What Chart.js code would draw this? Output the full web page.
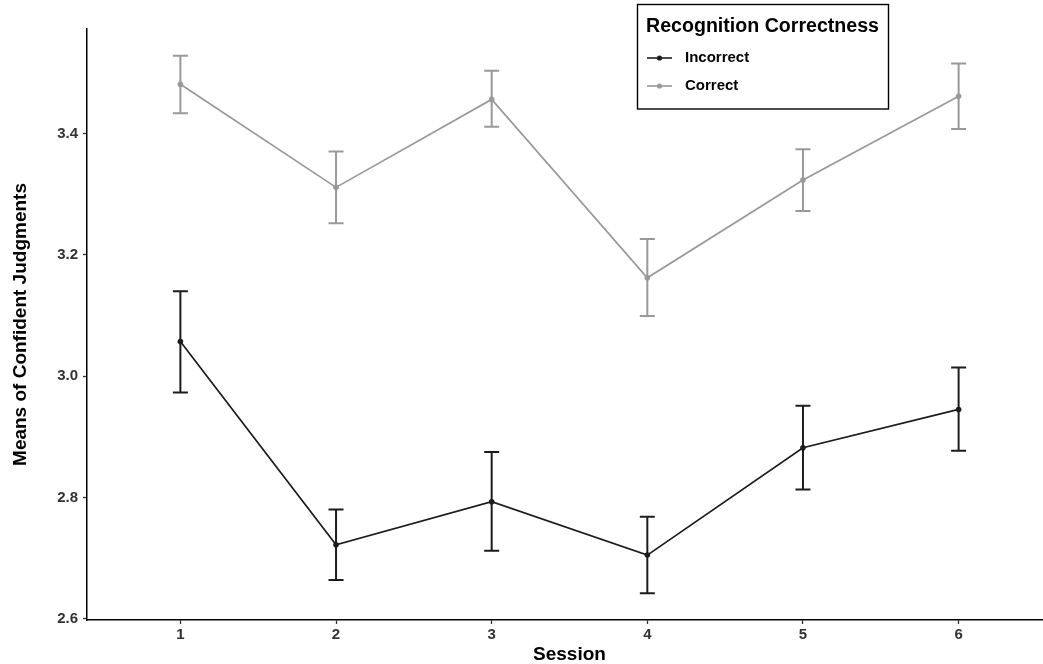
<!DOCTYPE html>
<html>
<head>
<meta charset="utf-8">
<script src="https://cdn.jsdelivr.net/npm/chart.js@4.4.1/dist/chart.umd.min.js"></script>
<style>
  html, body { margin: 0; padding: 0; background: #fff; overflow: hidden; }
  body { width: 1043px; height: 664px; }
  canvas { display: block; }
</style>
</head>
<body>
<canvas id="chart" width="1056" height="664"></canvas>
<script>
// Session means with their error-bar limits
const sessions = [1, 2, 3, 4, 5, 6];
const yTicks = [2.6, 2.8, 3.0, 3.2, 3.4];

const incorrectMean  = [3.057, 2.722, 2.793, 2.705, 2.882, 2.945];
const incorrectUpper = [3.140, 2.780, 2.875, 2.768, 2.951, 3.014];
const incorrectLower = [2.973, 2.664, 2.712, 2.642, 2.813, 2.877];

const correctMean  = [3.481, 3.311, 3.456, 3.162, 3.323, 3.461];
const correctUpper = [3.528, 3.370, 3.503, 3.226, 3.374, 3.515];
const correctLower = [3.433, 3.252, 3.411, 3.099, 3.272, 3.407];

const seriesLabels = ['Incorrect', 'Correct'];
const legendTitle = 'Recognition Correctness';

const FONT = '"Liberation Sans", Arial, Helvetica, sans-serif';
Chart.defaults.font.family = FONT;

const toPoints = (ys) => sessions.map((s, i) => ({ x: s, y: ys[i] }));

// vertical error bars with caps, drawn beneath the lines
const errorBars = {
  id: 'errorBars',
  beforeDatasetsDraw(chart) {
    const { ctx, scales: { x, y } } = chart;
    chart.data.datasets.forEach((ds) => {
      ctx.save();
      ctx.strokeStyle = ds.borderColor;
      ctx.lineWidth = 2;
      ds.upper.forEach((hi, i) => {
        const px = x.getPixelForValue(sessions[i]);
        const pTop = y.getPixelForValue(hi);
        const pBot = y.getPixelForValue(ds.lower[i]);
        const cap = 7.5;
        ctx.beginPath();
        ctx.moveTo(px, pTop); ctx.lineTo(px, pBot);
        ctx.moveTo(px - cap, pTop); ctx.lineTo(px + cap, pTop);
        ctx.moveTo(px - cap, pBot); ctx.lineTo(px + cap, pBot);
        ctx.stroke();
      });
      ctx.restore();
    });
  }
};

// boxed legend in the upper right
const boxLegend = {
  id: 'boxLegend',
  afterDraw(chart) {
    const { ctx } = chart;
    ctx.save();
    ctx.strokeStyle = '#000';
    ctx.lineWidth = 1.4;
    ctx.strokeRect(637.5, 4.5, 251, 104.5);
    ctx.fillStyle = '#000';
    ctx.textBaseline = 'middle';
    ctx.textAlign = 'left';
    ctx.font = 'bold 19.6px ' + FONT;
    ctx.fillText(legendTitle, 646, 27);
    ctx.font = 'bold 15px ' + FONT;
    chart.data.datasets.forEach((ds, i) => {
      const yy = 58 + i * 28;
      ctx.strokeStyle = ds.borderColor;
      ctx.lineWidth = 1.6;
      ctx.beginPath();
      ctx.moveTo(647, yy); ctx.lineTo(672, yy);
      ctx.stroke();
      ctx.fillStyle = ds.borderColor;
      ctx.beginPath();
      ctx.arc(659.5, yy, 2.6, 0, Math.PI * 2);
      ctx.fill();
      ctx.fillStyle = '#000';
      ctx.fillText(ds.label, 685, yy);
    });
    ctx.restore();
  }
};

const mkSeries = (label, color, mean, upper, lower) => ({
  label,
  data: toPoints(mean),
  upper, lower,
  borderColor: color,
  backgroundColor: color,
  pointBackgroundColor: color,
  pointBorderWidth: 0,
  pointRadius: 2.8,
  borderWidth: 1.7,
  tension: 0,
  showLine: true
});

new Chart(document.getElementById('chart'), {
  type: 'scatter',
  data: {
    datasets: [
      mkSeries(seriesLabels[0], '#1c1c1c', incorrectMean, incorrectUpper, incorrectLower),
      mkSeries(seriesLabels[1], '#999999', correctMean, correctUpper, correctLower)
    ]
  },
  options: {
    responsive: false,
    devicePixelRatio: 1,
    animation: false,
    layout: { padding: { top: 29, left: 0, right: 0, bottom: 0 } },
    plugins: { legend: { display: false }, tooltip: { enabled: false } },
    scales: {
      x: {
        type: 'linear',
        min: 0.4,
        max: 6.6,
        afterFit(s) { s.height = 44; s.paddingLeft = 0; s.paddingRight = 0; },
        afterBuildTicks(s) { s.ticks = sessions.map(v => ({ value: v })); },
        ticks: {
          color: '#333',
          font: { size: 15, weight: 'bold' },
          padding: 2,
          callback: (v) => String(v)
        },
        grid: { display: true, drawOnChartArea: false, drawTicks: true, tickLength: 4, tickColor: '#333', tickWidth: 1.3 },
        border: { display: true, color: '#000', width: 1.5 },
        title: {
          display: true, text: 'Session', color: '#000',
          font: { size: 19, weight: 'bold', lineHeight: 1 },
          padding: { top: 0, bottom: 0 }
        }
      },
      y: {
        min: 2.598,
        max: 3.572,
        afterFit(s) { s.width = 87; s.paddingTop = 0; s.paddingBottom = 0; },
        afterBuildTicks(s) { s.ticks = yTicks.map(v => ({ value: v })); },
        ticks: {
          color: '#333',
          font: { size: 15, weight: 'bold' },
          padding: 5,
          callback: (v) => Number(v).toFixed(1)
        },
        grid: { display: true, drawOnChartArea: false, drawTicks: true, tickLength: 4, tickColor: '#333', tickWidth: 1.3 },
        border: { display: true, color: '#000', width: 1.5 },
        title: {
          display: true, text: 'Means of Confident Judgments', color: '#000',
          font: { size: 19, weight: 'bold', lineHeight: 1 },
          padding: { top: 11, bottom: 0 }
        }
      }
    }
  },
  plugins: [errorBars, boxLegend]
});
</script>
</body>
</html>
